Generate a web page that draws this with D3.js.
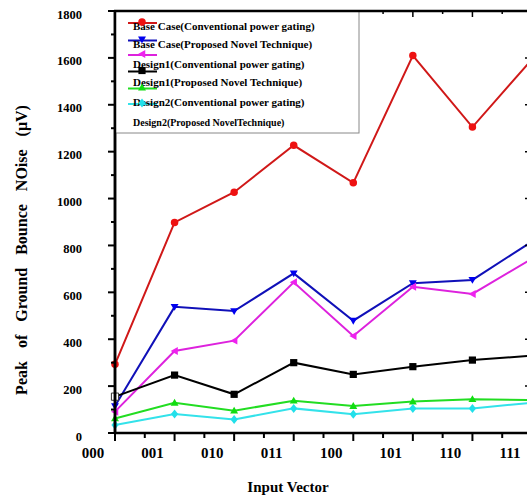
<!DOCTYPE html>
<html><head><meta charset="utf-8">
<script src="https://cdn.jsdelivr.net/npm/d3@7"></script>
<style>
html,body{margin:0;padding:0;background:#fff;overflow:hidden}
svg{display:block}
text{font-family:"Liberation Serif","Times New Roman",serif;font-weight:bold;fill:#000}
</style></head>
<body>
<svg id="chart" width="527" height="497"></svg>
<script>
const categories = ["000","001","010","011","100","101","110","111"];
const baseConv   = [293, 898, 1027, 1227, 1067, 1610, 1305, 1594];
const baseProp   = [115, 538, 520, 681, 479, 639, 653, 817];
const d1Conv     = [91, 350, 394, 643, 414, 624, 593, 744];
const d1Prop     = [155, 247, 165, 300, 250, 283, 311, 330];
const d2Conv     = [62, 129, 95, 138, 115, 134, 144, 141];
const d2Prop     = [34, 81, 58, 105, 80, 105, 105, 129];
const seriesNames = ["Base Case(Conventional power gating)","Base Case(Proposed Novel Technique)",
  "Design1(Conventional power gating)","Design1(Proposed Novel Technique)",
  "Design2(Conventional power gating)","Design2(Proposed NovelTechnique)"];
const yTicks = [0,200,400,600,800,1000,1200,1400,1600,1800];

const series = [
  {vals: baseConv, line:"#d01818", fill:"#ee1111", sym:"circle"},
  {vals: baseProp, line:"#1010b8", fill:"#0000ee", sym:"down"},
  {vals: d1Conv,   line:"#dd22dd", fill:"#ee22ee", sym:"left"},
  {vals: d1Prop,   line:"#000000", fill:"#000000", sym:"square"},
  {vals: d2Conv,   line:"#22dd22", fill:"#11dd11", sym:"up"},
  {vals: d2Prop,   line:"#33e2ea", fill:"#22e0ea", sym:"diamond"}
];

const svg = d3.select("#chart");
const x = d3.scaleLinear().domain([0, 7]).range([115, 532]);
const y = d3.scaleLinear().domain([0, 1800]).range([433, 11]);

function symPath(sym, s){
  switch(sym){
    case "circle": return d3.symbol(d3.symbolCircle, 44)();
    case "square": return `M${-s},${-s}H${s}V${s}H${-s}Z`;
    case "down": return `M${-s*1.1},${-s*0.8}H${s*1.1}L0,${s*1.1}Z`;
    case "up": return `M${-s*1.1},${s*0.8}H${s*1.1}L0,${-s*1.1}Z`;
    case "left": return `M${s*0.9},${-s*1.1}V${s*1.1}L${-s*1.1},0Z`;
    case "diamond": return `M0,${-s*1.25}L${s},0L0,${s*1.25}L${-s},0Z`;
  }
}

const line = d3.line().x((d,i)=>x(i)).y(d=>y(d));
series.forEach((s, si) => {
  svg.append("path").datum(s.vals).attr("d", line)
    .attr("fill","none").attr("stroke", s.line).attr("stroke-width", 2);
  svg.selectAll(null).data(s.vals).enter().append("path")
    .attr("d", symPath(s.sym, 3.6))
    .attr("transform", (d,i)=>`translate(${x(i)},${y(d)})`)
    .attr("fill", (d,i)=> (s.sym==="square" && i===0) ? "#fff" : s.fill)
    .attr("stroke", (d,i)=> (s.sym==="square" && i===0) ? "#333" : "none")
    .attr("stroke-width", 1);
});

const xMinor = d3.range(0, 7.01, 0.5);
const yMinor = d3.range(0, 1801, 100);
svg.selectAll(null).data(yMinor).enter().append("line")
  .attr("x1", d=> d%200===0 ? 108 : 111).attr("x2", 115)
  .attr("y1", d=>y(d)).attr("y2", d=>y(d)).attr("stroke","#000").attr("stroke-width",2);
svg.selectAll(null).data(yMinor).enter().append("line")
  .attr("x1", d=> d%200===0 ? 525 : 528).attr("x2", 532)
  .attr("y1", d=>y(d)).attr("y2", d=>y(d)).attr("stroke","#000").attr("stroke-width",1.5);
svg.selectAll(null).data(xMinor).enter().append("line")
  .attr("x1", d=>x(d)).attr("x2", d=>x(d))
  .attr("y1", 433).attr("y2", d=> Number.isInteger(d) ? 441 : 438)
  .attr("stroke","#000").attr("stroke-width",2);
svg.selectAll(null).data(xMinor).enter().append("line")
  .attr("x1", d=>x(d)).attr("x2", d=>x(d))
  .attr("y1", 11).attr("y2", d=> Number.isInteger(d) ? 17 : 14)
  .attr("stroke","#000").attr("stroke-width",1.5);

svg.append("line").attr("x1",115).attr("x2",115).attr("y1",10).attr("y2",434).attr("stroke","#000").attr("stroke-width",2.5);
svg.append("line").attr("x1",114).attr("x2",540).attr("y1",433).attr("y2",433).attr("stroke","#000").attr("stroke-width",2.5);
svg.append("line").attr("x1",532).attr("x2",532).attr("y1",10).attr("y2",434).attr("stroke","#000").attr("stroke-width",2.5);

svg.selectAll(null).data(yTicks).enter().append("text")
  .attr("x", 82).attr("y", d=>y(d)).attr("dy","0.6em")
  .attr("text-anchor","end").attr("font-size","12.5px").text(d=>d);

svg.selectAll(null).data(categories).enter().append("text")
  .attr("x", (d,i)=>x(i)-22).attr("y", 458)
  .attr("text-anchor","middle").attr("font-size","15px").text(d=>d);

svg.append("text").attr("x", 288).attr("y", 492).attr("text-anchor","middle")
  .attr("font-size","15px").text("Input Vector");
svg.append("text").attr("transform","translate(27,250) rotate(-90)")
  .attr("text-anchor","middle").attr("font-size","16px").attr("word-spacing","9px")
  .text("Peak of Ground Bounce NOise (μV)");

const lg = svg.append("g");
lg.append("rect").attr("x",115).attr("y",11).attr("width",244).attr("height",122)
  .attr("fill","#fff").attr("stroke","#888").attr("stroke-width",1);
const lineYs = [23, 40.5, 55, 71.5, 88.5, 104];
const textYs = [30, 48, 67.5, 85.5, 106, 126];
series.forEach((s, i) => {
  lg.append("line").attr("x1",128).attr("x2",157).attr("y1",lineYs[i]).attr("y2",lineYs[i])
    .attr("stroke", s.line).attr("stroke-width",2);
});
seriesNames.forEach((n, i) => {
  lg.append("text").attr("x",133).attr("y",textYs[i])
    .attr("font-size", i===5 ? "10px" : "11px").text(n);
});
series.forEach((s, i) => {
  lg.append("path").attr("d", symPath(s.sym, 3.6))
    .attr("transform", `translate(142,${lineYs[i]-1})`).attr("fill", s.fill);
});
svg.append("line").attr("x1",114).attr("x2",540).attr("y1",11).attr("y2",11).attr("stroke","#000").attr("stroke-width",2.5);
svg.append("line").attr("x1",115).attr("x2",115).attr("y1",10).attr("y2",434).attr("stroke","#000").attr("stroke-width",2.5);
</script>
</body></html>
